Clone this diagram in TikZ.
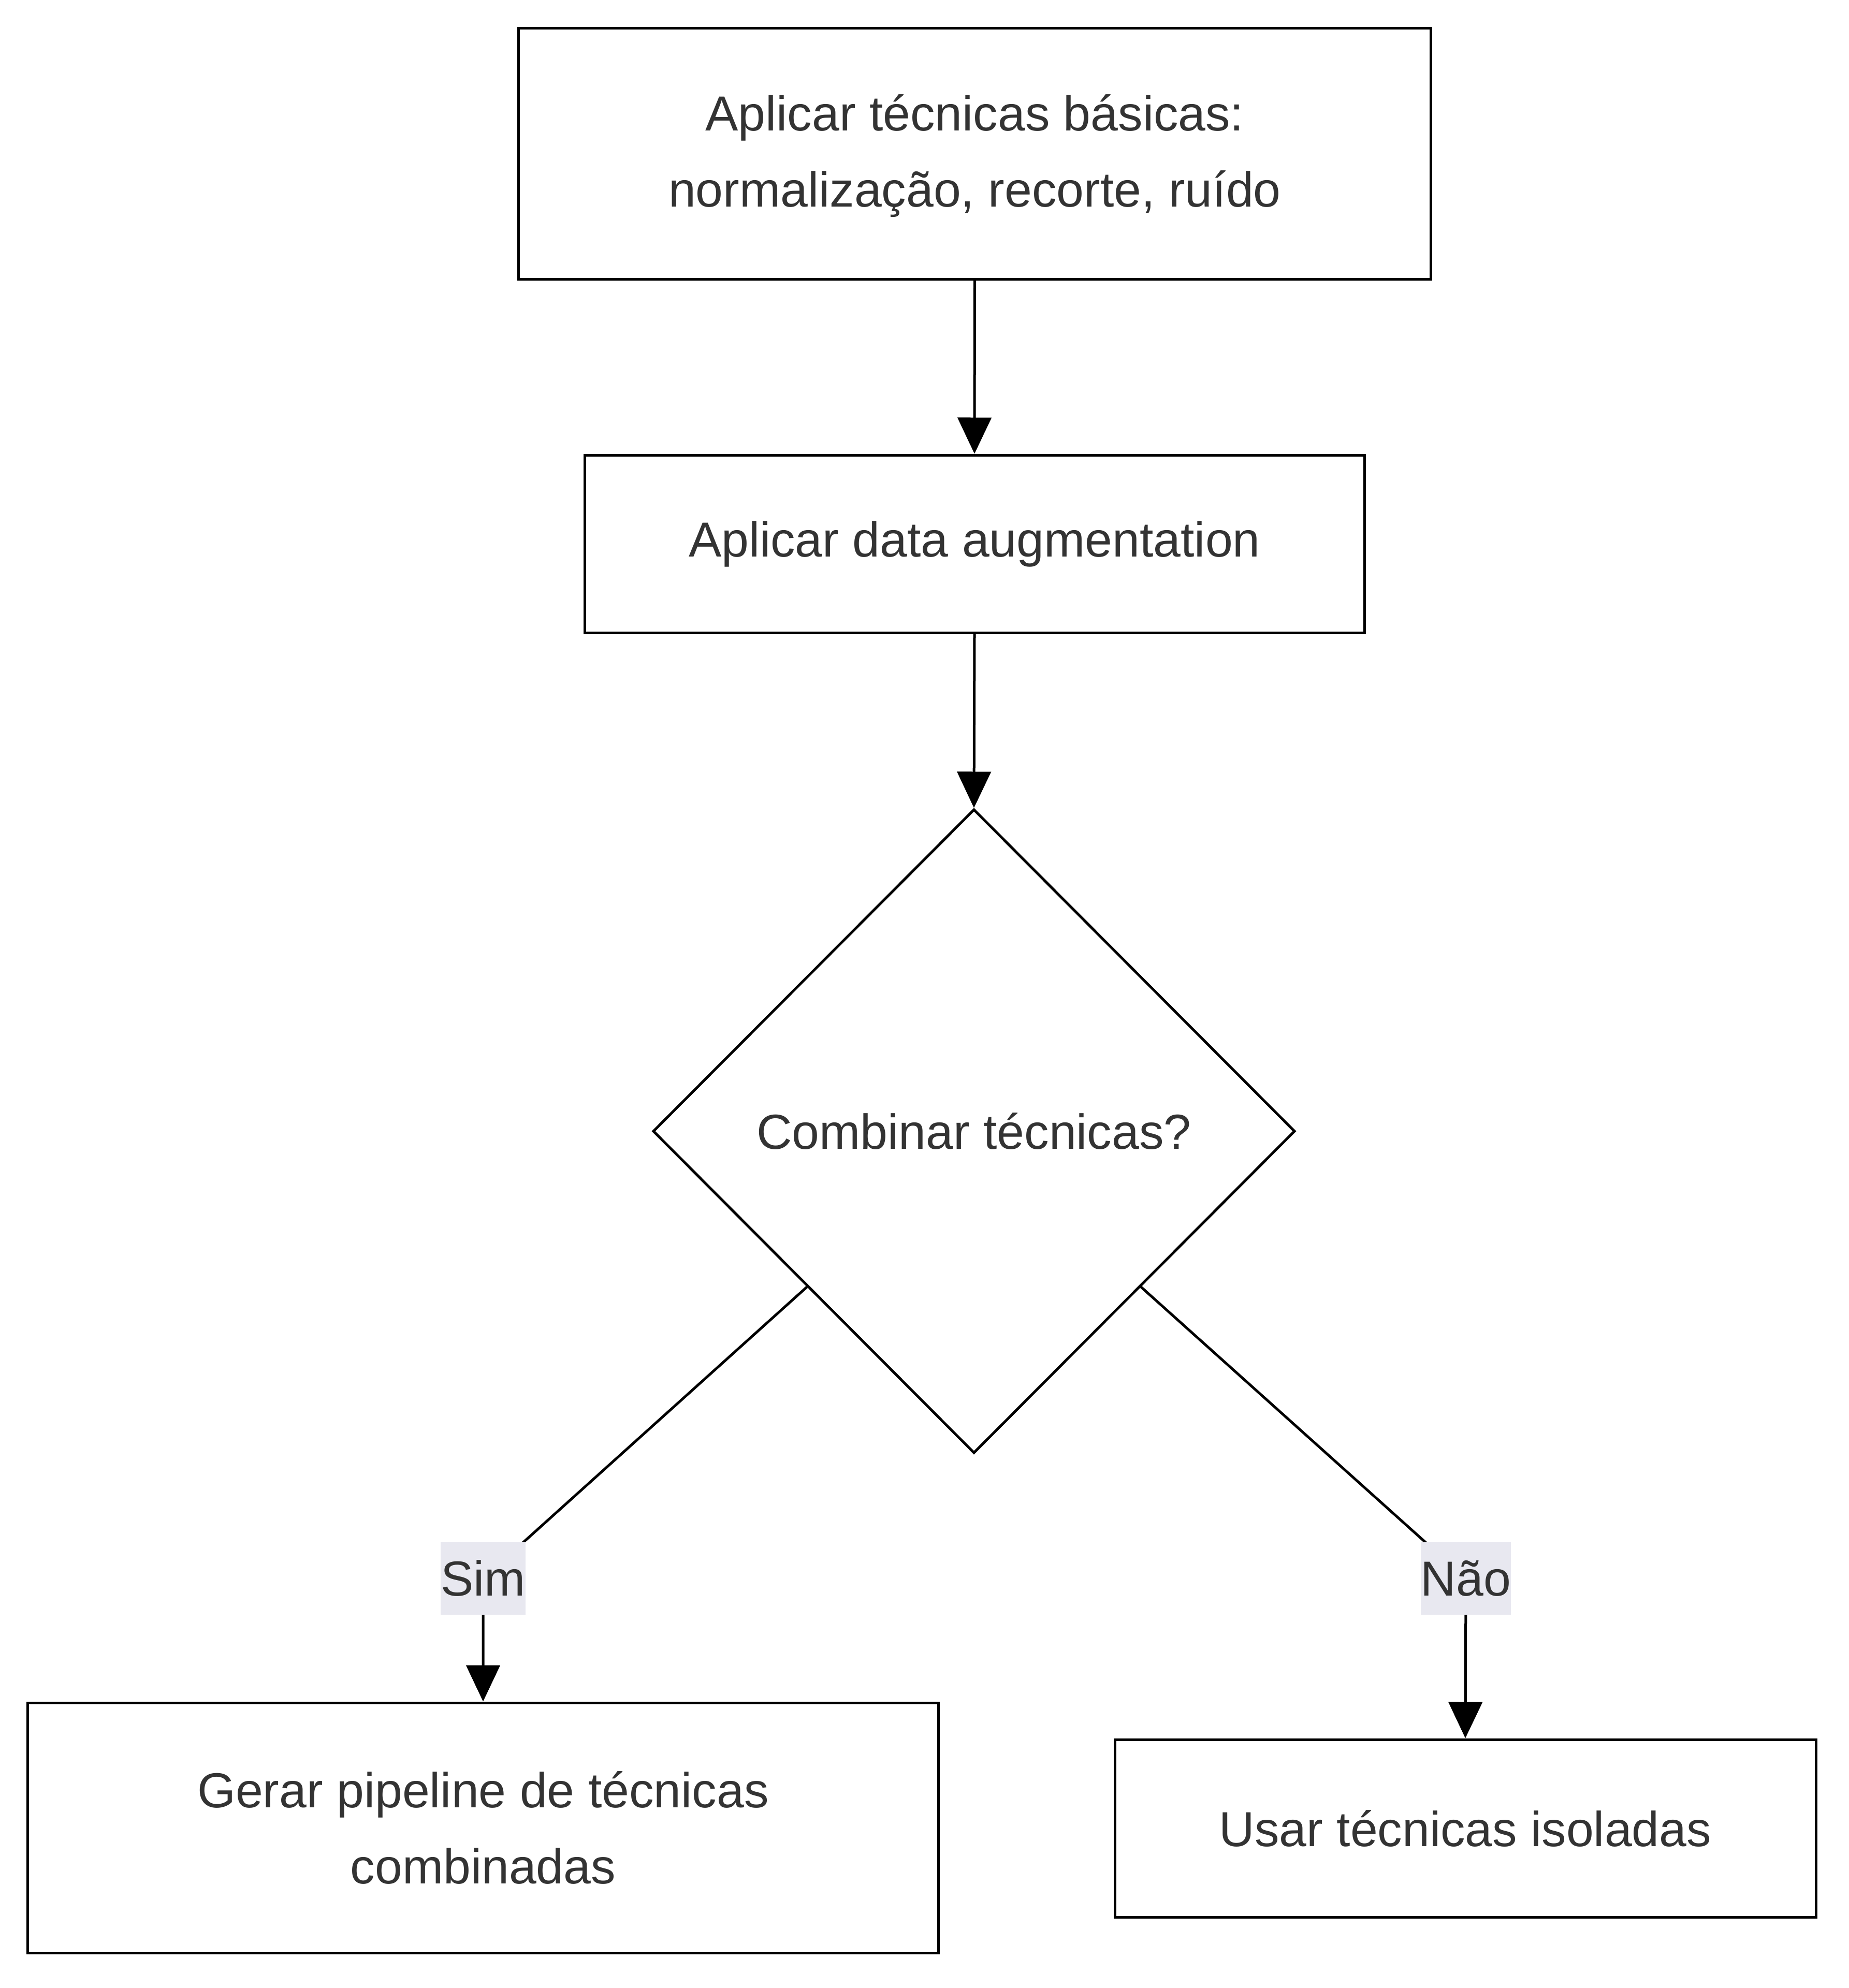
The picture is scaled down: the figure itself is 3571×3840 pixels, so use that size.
\documentclass[tikz,border=0pt]{standalone}
\usepackage{fontspec}
\setmainfont{Liberation Sans}
\usetikzlibrary{shapes.geometric,arrows.meta}
\definecolor{txt}{HTML}{333333}
\definecolor{lblbg}{RGB}{232,232,240}
\begin{document}
\begin{tikzpicture}[x=0.2pt,y=-0.2pt,
  every node/.style={text=txt,font=\fontsize{19pt}{29.4pt}\selectfont},
  procbox/.style={draw=black,line width=1pt,fill=white,align=center,inner sep=0pt},
  decision/.style={draw=black,line width=1pt,fill=white,diamond,aspect=1,inner sep=0pt,
    minimum width=248pt,minimum height=248.8pt},
  edgelabel/.style={fill=lblbg,inner xsep=0pt,inner ysep=0pt,minimum height=28pt},
  flow/.style={draw=black,line width=1pt,-{Triangle[length=14pt,width=13pt]}}
]
\useasboundingbox (0,0) rectangle (3571,3840);
\fill[white] (0,0) rectangle (3571,3840);

\node[procbox,minimum width=352.2pt,minimum height=97pt] (basic) at (1882.5,296.5)
  {\raisebox{-3pt}{\begin{tabular}{@{}c@{}}Aplicar técnicas básicas:\\normalização, recorte, ruído\end{tabular}}};
\node[procbox,minimum width=301.2pt,minimum height=68.6pt] (aug) at (1882,1050.5)
  {\raisebox{-4pt}{Aplicar data augmentation}};
\node[decision] (comb) at (1881,2185) {Combinar técnicas?};
\node[procbox,minimum width=351.6pt,minimum height=96.6pt] (pipe) at (933,3530.5)
  {Gerar pipeline de técnicas\\combinadas};
\node[procbox,minimum width=270.8pt,minimum height=68.6pt] (iso) at (2830,3531.5)
  {Usar técnicas isoladas};

\coordinate (simpt) at (933,3049);
\coordinate (naopt) at (2831,3049);

\draw[flow] (basic.south) -- (aug.north);
\draw[flow] (aug.south) -- (comb.north);
\draw[flow] (comb.223) -- (simpt) -- (pipe.north);
\draw[flow] (comb.317.5) -- (naopt) -- (iso.north);

\node[edgelabel] (sim) at (simpt) {Sim};
\node[edgelabel] (nao) at (naopt) {Não};
\end{tikzpicture}
\end{document}
